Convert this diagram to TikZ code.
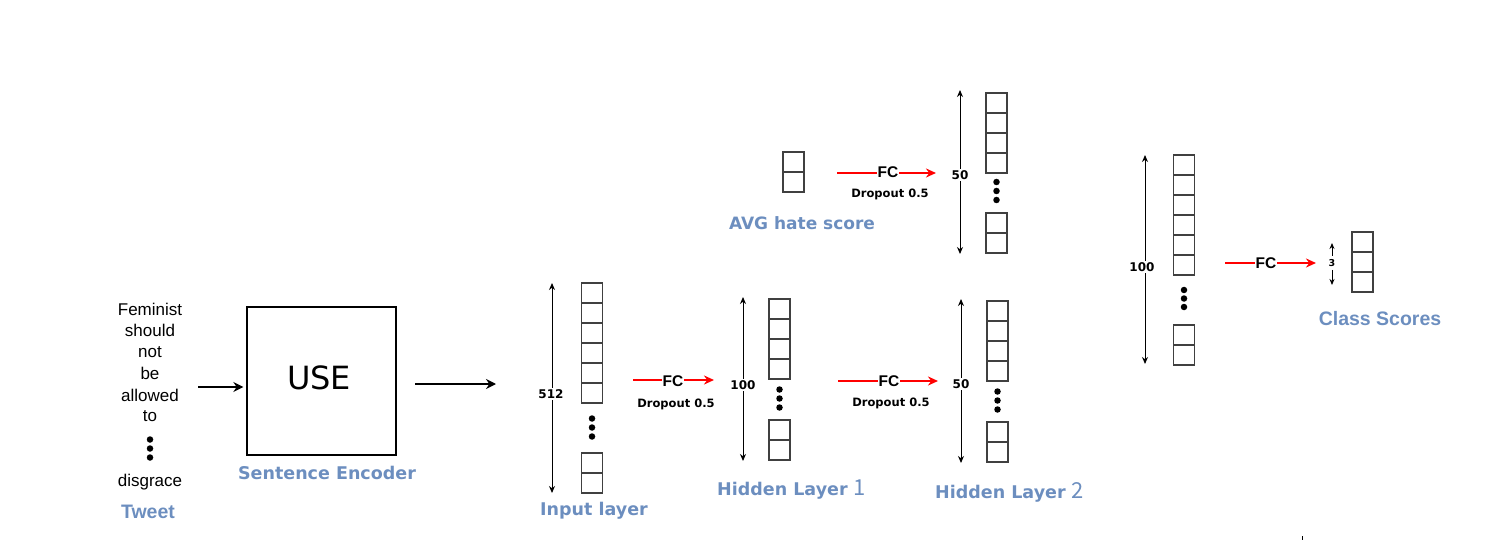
\documentclass[tikz,border=0pt]{standalone}
\usepackage{fontspec}
\setmainfont{Liberation Sans}
\newfontfamily\dejavu{DejaVu Sans}
\newfontfamily\cjk{Noto Sans CJK SC}
\usetikzlibrary{arrows.meta}
\definecolor{lblue}{RGB}{108,142,191}
\begin{document}
\begin{tikzpicture}[x=1pt,y=-1pt,
  cell/.style={draw=black!75,line width=1.4pt,minimum width=21pt,minimum height=20pt,inner sep=0pt},
  dim/.style={line width=1pt,{Stealth[length=7pt,width=6pt]}-{Stealth[length=7pt,width=6pt]}},
  fcline/.style={red,line width=2pt,-{Stealth[length=10pt,width=9pt]}},
  fctext/.style={fill=white,inner sep=0.5pt,font=\fontsize{15.5}{16}\selectfont\bfseries},
  droptext/.style={inner sep=0pt,font=\dejavu\fontsize{11.5}{12}\selectfont\bfseries},
  numtext/.style={fill=white,inner sep=1pt,font=\dejavu\fontsize{12}{13}\selectfont\bfseries},
  blabel/.style={text=lblue,inner sep=0pt,font=\dejavu\fontsize{17.5}{19}\selectfont\bfseries},
  alabel/.style={text=lblue,inner sep=0pt,font=\fontsize{19.5}{21}\selectfont\bfseries},
  tw/.style={inner sep=0pt,font=\fontsize{17}{18}\selectfont},
  bigarrow/.style={line width=2.6pt,-{Stealth[length=10pt,width=10pt]}},
  dot/.style={circle,fill=black,inner sep=0pt,minimum size=6.5pt}
]
\useasboundingbox (0,0) rectangle (1500,540);
\newcommand\cellcol[4]{%
  \foreach \i in {1,...,#4} \node[cell] (#1-\i) at (#2,{#3+10+20*(\i-1)}) {};}
\newcommand\dotcol[4]{%
  \foreach \i in {0,1,2} \node[dot] (#1-d\i) at (#2,{#3+#4*\i}) {};}

% Tweet
\node[tw] (w1) at (150,309) {Feminist};
\node[tw] (w2) at (150,330.5) {should};
\node[tw] (w3) at (150,352) {not};
\node[tw] (w4) at (150,373.5) {be};
\node[tw] (w5) at (150,395) {allowed};
\node[tw] (w6) at (150,416.5) {to};
\dotcol{tw}{150}{439.5}{9}
\node[tw] (w7) at (150,482) {disgrace};
\node[alabel,font=\fontsize{19.5}{21}\selectfont\bfseries] (tweet) at (148,512) {Tweet};

% USE
\node[draw,line width=1.3pt,minimum width=149pt,minimum height=148pt,inner sep=0pt] (use) at (321.5,381) {};
\node[inner sep=0pt,font=\dejavu\fontsize{32}{34}\selectfont] (usetxt) at (319,378) {USE};
\node[blabel] (se) at (327,473) {Sentence Encoder};
\coordinate (a1s) at (198,387);
\draw[bigarrow] (a1s) -- ([xshift=-3pt]use.west |- a1s);
\coordinate (a2s) at (415,384);
\coordinate (a2e) at (496,384);
\draw[bigarrow] (a2s) -- (a2e);

% Input layer
\cellcol{in}{592}{283}{6}
\dotcol{in}{592}{418.5}{9}
\cellcol{inb}{592}{453}{2}
\coordinate (inT) at (552,283);
\coordinate (inB) at (552,493);
\draw[dim] (inT) -- (inB);
\node[numtext] (n512) at (551,394) {512};
\node[blabel] (inl) at (594,511) {Input layer};

% FC 1
\coordinate (f1s) at (633,380);
\coordinate (f1e) at (714,380);
\draw[fcline] (f1s) -- (f1e);
\node[fctext] (fc1) at (673,381) {FC};
\node[droptext] (dr1) at (676,404) {Dropout 0.5};

% Hidden 1
\cellcol{h1}{779.5}{299}{4}
\dotcol{h1}{779.5}{389.5}{9}
\cellcol{h1b}{779.5}{420}{2}
\coordinate (h1T) at (743,297);
\coordinate (h1B) at (743,461);
\draw[dim] (h1T) -- (h1B);
\node[numtext] (n100a) at (743,385) {100};
\node[blabel,anchor=west] (hl1) at (717,490) {Hidden Layer {\cjk\mdseries\fontsize{22}{22}\selectfont 1}};

% FC 2
\coordinate (f2s) at (838,381);
\coordinate (f2e) at (938,381);
\draw[fcline] (f2s) -- (f2e);
\node[fctext] (fc2) at (889,381) {FC};
\node[droptext] (dr2) at (891,403) {Dropout 0.5};

% Hidden 2
\cellcol{h2}{997.5}{301}{4}
\dotcol{h2}{997.5}{391.5}{9}
\cellcol{h2b}{997.5}{422}{2}
\coordinate (h2T) at (961,299);
\coordinate (h2B) at (961,463);
\draw[dim] (h2T) -- (h2B);
\node[numtext] (n50a) at (961,384) {50};
\node[blabel,anchor=west] (hl2) at (935,492) {Hidden Layer {\cjk\mdseries\fontsize{22}{22}\selectfont 2}};

% AVG hate score
\cellcol{avg}{793.5}{152}{2}
\node[blabel,font=\dejavu\fontsize{17}{18}\selectfont\bfseries] (avgl) at (802,223) {AVG hate score};
\coordinate (f3s) at (837,173);
\coordinate (f3e) at (936,173);
\draw[fcline] (f3s) -- (f3e);
\node[fctext] (fc3) at (888,172) {FC};
\node[droptext] (dr3) at (890,194) {Dropout 0.5};

% Top layer 50
\cellcol{t}{996.5}{93}{4}
\dotcol{t}{996.5}{182}{9}
\cellcol{tb}{996.5}{213}{2}
\coordinate (tT) at (960,90);
\coordinate (tB) at (960,254);
\draw[dim] (tT) -- (tB);
\node[numtext] (n50b) at (960,175) {50};

% Right layer 100
\cellcol{r}{1184}{155}{6}
\dotcol{r}{1184}{290}{8.5}
\cellcol{rb}{1184}{325}{2}
\coordinate (rT) at (1145,155);
\coordinate (rB) at (1145,364);
\draw[dim] (rT) -- (rB);
\node[numtext] (n100b) at (1142,267) {100};

% FC 4
\coordinate (f4s) at (1225,263);
\coordinate (f4e) at (1316,263);
\draw[fcline] (f4s) -- (f4e);
\node[fctext] (fc4) at (1266,263) {FC};

% Class scores
\cellcol{c}{1362.5}{232}{3}
\node[inner sep=0pt,font=\dejavu\fontsize{9.5}{10}\selectfont\bfseries] (n3) at (1332,263) {3};
\coordinate (c3a) at (1332,256);
\coordinate (c3b) at (1332,243);
\coordinate (c3c) at (1332,270);
\coordinate (c3d) at (1332,285);
\draw[line width=0.9pt,-{Stealth[length=6pt,width=5pt]}] (c3a) -- (c3b);
\draw[line width=0.9pt,-{Stealth[length=6pt,width=5pt]}] (c3c) -- (c3d);
\node[alabel] (cls) at (1380,319) {Class Scores};

% small mark
\coordinate (m1) at (1302,536);
\coordinate (m2) at (1302,540);
\draw[line width=1pt] (m1) -- (m2);
\end{tikzpicture}
\end{document}
